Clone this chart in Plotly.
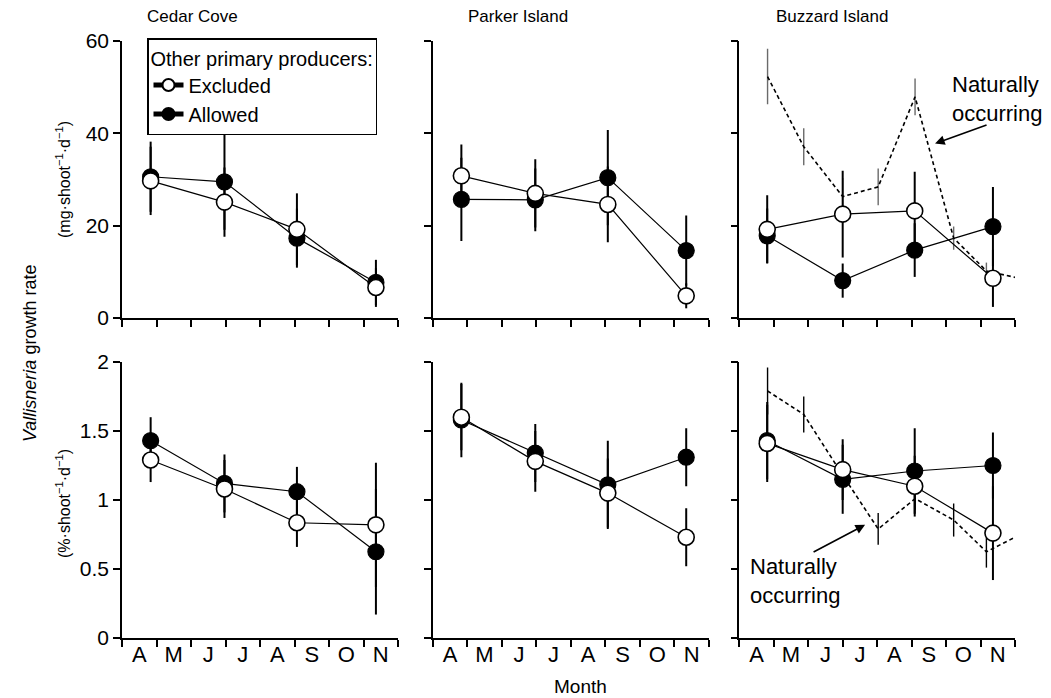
import plotly.graph_objects as go

# ---------------- data ----------------
months = ["A", "M", "J", "J", "A", "S", "O", "N"]
sites = ["Cedar Cove", "Parker Island", "Buzzard Island"]

# sampling dates, in months after 1 April
cedar_x = [0.83, 2.97, 5.07, 7.36]
parker_x = [0.83, 2.97, 5.07, 7.34]
buzzard_x = [0.81, 3.0, 5.09, 7.36]
natural_x = [0.82, 1.87, 3.0, 4.03, 5.1, 6.22, 7.17, 8.0]

# growth rate, mg shoot-1 d-1
cedar_mass_excl = [29.7, 25.1, 19.2, 6.6]
cedar_mass_excl_err = [7.4, 7.5, 7.8, 4.2]
cedar_mass_allow = [30.6, 29.5, 17.3, 7.7]
cedar_mass_allow_err = [7.6, 10.4, 6.4, 4.9]

parker_mass_excl = [30.8, 27.0, 24.6, 4.8]
parker_mass_excl_err = [6.8, 7.4, 8.2, 2.7]
parker_mass_allow = [25.7, 25.6, 30.4, 14.6]
parker_mass_allow_err = [9.0, 6.8, 10.3, 7.6]

buzzard_mass_excl = [19.2, 22.5, 23.2, 8.6]
buzzard_mass_excl_err = [7.4, 9.4, 8.5, 6.2]
buzzard_mass_allow = [17.8, 8.1, 14.7, 19.8]
buzzard_mass_allow_err = [5.9, 3.7, 5.8, 8.6]

natural_mass = [52.3, 37.1, 26.3, 28.4, 47.9, 17.3, 10.2, 8.8]
natural_mass_err = [6.0, 4.0, 4.0, 4.0, 4.0, 2.5, 1.8, 0.0]

# growth rate, % shoot-1 d-1
cedar_pct_excl = [1.29, 1.08, 0.835, 0.82]
cedar_pct_excl_err = [0.16, 0.21, 0.175, 0.45]
cedar_pct_allow = [1.43, 1.12, 1.06, 0.625]
cedar_pct_allow_err = [0.17, 0.21, 0.18, 0.455]

parker_pct_excl = [1.60, 1.28, 1.05, 0.73]
parker_pct_excl_err = [0.24, 0.22, 0.25, 0.21]
parker_pct_allow = [1.58, 1.34, 1.11, 1.31]
parker_pct_allow_err = [0.27, 0.21, 0.32, 0.21]

buzzard_pct_excl = [1.41, 1.22, 1.10, 0.76]
buzzard_pct_excl_err = [0.28, 0.22, 0.22, 0.34]
buzzard_pct_allow = [1.43, 1.15, 1.21, 1.25]
buzzard_pct_allow_err = [0.28, 0.25, 0.31, 0.24]

natural_pct = [1.79, 1.62, 1.18, 0.79, 1.01, 0.855, 0.625, 0.73]
natural_pct_err = [0.17, 0.13, 0.10, 0.115, 0.08, 0.12, 0.115, 0.0]

mass_ticks = [0, 20, 40, 60]
pct_ticks = [0, 0.5, 1, 1.5, 2]
pct_ticktext = ["0", "0.5", "1", "1.5", "2"]

# ---------------- figure ----------------
W, H = 1051, 698
FONT = "Liberation Sans, Arial, Helvetica, sans-serif"

fig = go.Figure()

panels = [
    (1, cedar_x, cedar_mass_allow, cedar_mass_allow_err, cedar_mass_excl, cedar_mass_excl_err),
    (2, parker_x, parker_mass_allow, parker_mass_allow_err, parker_mass_excl, parker_mass_excl_err),
    (3, buzzard_x, buzzard_mass_allow, buzzard_mass_allow_err, buzzard_mass_excl, buzzard_mass_excl_err),
    (4, cedar_x, cedar_pct_allow, cedar_pct_allow_err, cedar_pct_excl, cedar_pct_excl_err),
    (5, parker_x, parker_pct_allow, parker_pct_allow_err, parker_pct_excl, parker_pct_excl_err),
    (6, buzzard_x, buzzard_pct_allow, buzzard_pct_allow_err, buzzard_pct_excl, buzzard_pct_excl_err),
]


def ax(i):
    return ("x" if i == 1 else f"x{i}", "y" if i == 1 else f"y{i}")


# naturally occurring (dashed) lines in Buzzard Island panels
for i, yv, ye, ecol in [(3, natural_mass, natural_mass_err, "#6a6a6a"),
                        (6, natural_pct, natural_pct_err, "black")]:
    xa, ya = ax(i)
    fig.add_trace(go.Scatter(
        x=natural_x, y=yv, xaxis=xa, yaxis=ya, mode="lines",
        line=dict(color="black", width=1.6, dash="4px,3px"),
        error_y=dict(type="data", array=ye, visible=True, color=ecol,
                     thickness=1.4, width=0),
        showlegend=False, hoverinfo="skip", cliponaxis=False))

for i, xv, ya_v, ya_e, ye_v, ye_e in panels:
    xa, ya = ax(i)
    fig.add_trace(go.Scatter(
        x=xv, y=ya_v, xaxis=xa, yaxis=ya, mode="lines+markers",
        name="Allowed", legendrank=2, showlegend=(i == 1),
        line=dict(color="black", width=1.2),
        marker=dict(symbol="circle", size=16, color="black",
                    line=dict(color="black", width=1.2)),
        error_y=dict(type="data", array=ya_e, visible=True, color="black",
                     thickness=2, width=0),
        cliponaxis=False))
    fig.add_trace(go.Scatter(
        x=xv, y=ye_v, xaxis=xa, yaxis=ya, mode="lines+markers",
        name="Excluded", legendrank=1, showlegend=(i == 1),
        line=dict(color="black", width=1.2),
        marker=dict(symbol="circle", size=16, color="white",
                    line=dict(color="black", width=1.6)),
        error_y=dict(type="data", array=ye_e, visible=True, color="black",
                     thickness=2, width=0),
        cliponaxis=False))

# axes geometry (pixels)
x_px = [(122, 398), (432.7, 709), (739.3, 1015)]
y_px = [(41, 318), (362, 638)]

layout = {}
for r in range(2):
    for c in range(3):
        i = r * 3 + c + 1
        xname = "xaxis" if i == 1 else f"xaxis{i}"
        yname = "yaxis" if i == 1 else f"yaxis{i}"
        x0, x1 = x_px[c]
        ytop, ybot = y_px[r]
        xa, ya = ax(i)
        common = dict(showline=True, linecolor="black", linewidth=1.5,
                      showgrid=False, zeroline=False, mirror=False,
                      automargin=False,
                      tickcolor="black", tickwidth=1.5, ticklen=7,
                      tickfont=dict(family=FONT, size=21, color="black"))
        if r == 1:
            xdict = dict(common, domain=[x0 / W, x1 / W], range=[0, 8],
                         anchor=ya, tickmode="array",
                         tickvals=[k + 0.5 for k in range(8)], ticktext=months,
                         ticks="", ticklen=0, ticklabelstandoff=-4,
                         minor=dict(tickmode="array", tickvals=list(range(9)),
                                    ticks="outside", ticklen=7, tickwidth=1.5,
                                    tickcolor="black", showgrid=False))
            xdict["tickfont"] = dict(family=FONT, size=22, color="black")
        else:
            xdict = dict(common, domain=[x0 / W, x1 / W], range=[0, 8],
                         anchor=ya, tickmode="array", tickvals=list(range(9)),
                         ticks="outside", showticklabels=False)
        if r == 0:
            ydict = dict(common, domain=[1 - ybot / H, 1 - ytop / H], range=[0, 60],
                         anchor=xa, tickmode="array", tickvals=mass_ticks,
                         ticks="outside", showticklabels=(c == 0))
        else:
            ydict = dict(common, domain=[1 - ybot / H, 1 - ytop / H], range=[0, 2],
                         anchor=xa, tickmode="array", tickvals=pct_ticks,
                         ticktext=pct_ticktext,
                         ticks="outside", showticklabels=(c == 0))
        layout[xname] = xdict
        layout[yname] = ydict

annotations = []


def txt(text, x, y, size, xanchor="center", yanchor="middle", angle=0, align="center"):
    annotations.append(dict(text=text, x=x / W, y=1 - y / H, xref="paper", yref="paper",
                            xanchor=xanchor, yanchor=yanchor, showarrow=False,
                            textangle=angle, align=align,
                            font=dict(family=FONT, size=size, color="black")))


# panel titles
txt(sites[0], 192, 17, 17)
txt(sites[1], 518, 17, 17)
txt(sites[2], 832, 17, 17)
# axis titles
txt("Month", 580, 686, 19)
txt("<i>Vallisneria</i> growth rate", 30, 354, 18, angle=-90)
txt("(mg·shoot<sup>−1</sup>·d<sup>−1</sup>)", 63, 180, 16, angle=-90)
txt("(%·shoot<sup>−1</sup>·d<sup>−1</sup>)", 63, 504, 16, angle=-90)
# naturally occurring labels
txt("Naturally<br>occurring", 950, 99, 22, xanchor="left", align="left")
txt("Naturally<br>occurring", 748, 581, 22, xanchor="left", align="left")

# arrows (head at x,y ; tail offset in pixels)
annotations.append(dict(x=5.68, y=37.8, xref="x3", yref="y3", text="",
                        showarrow=True, ax=53, ay=-19, axref="pixel", ayref="pixel",
                        arrowhead=2, arrowsize=1.2, arrowwidth=1.6, arrowcolor="black"))
annotations.append(dict(x=3.65, y=0.82, xref="x6", yref="y6", text="",
                        showarrow=True, ax=-53, ay=28, axref="pixel", ayref="pixel",
                        arrowhead=2, arrowsize=1.2, arrowwidth=1.6, arrowcolor="black"))

fig.update_layout(
    template="none",
    width=W, height=H,
    margin=dict(l=0, r=0, t=0, b=0, autoexpand=False),
    paper_bgcolor="white", plot_bgcolor="white",
    font=dict(family=FONT, color="black"),
    annotations=annotations,
    showlegend=True,
    legend=dict(x=147 / W, y=1 - 38 / H, xanchor="left", yanchor="top",
                bgcolor="white", bordercolor="black", borderwidth=1.5,
                font=dict(family=FONT, size=20, color="black"),
                title=dict(text="Other primary producers:",
                           font=dict(family=FONT, size=20, color="black")),
                itemsizing="constant", tracegroupgap=0),
    **layout,
)

fig.write_html("out.html")
